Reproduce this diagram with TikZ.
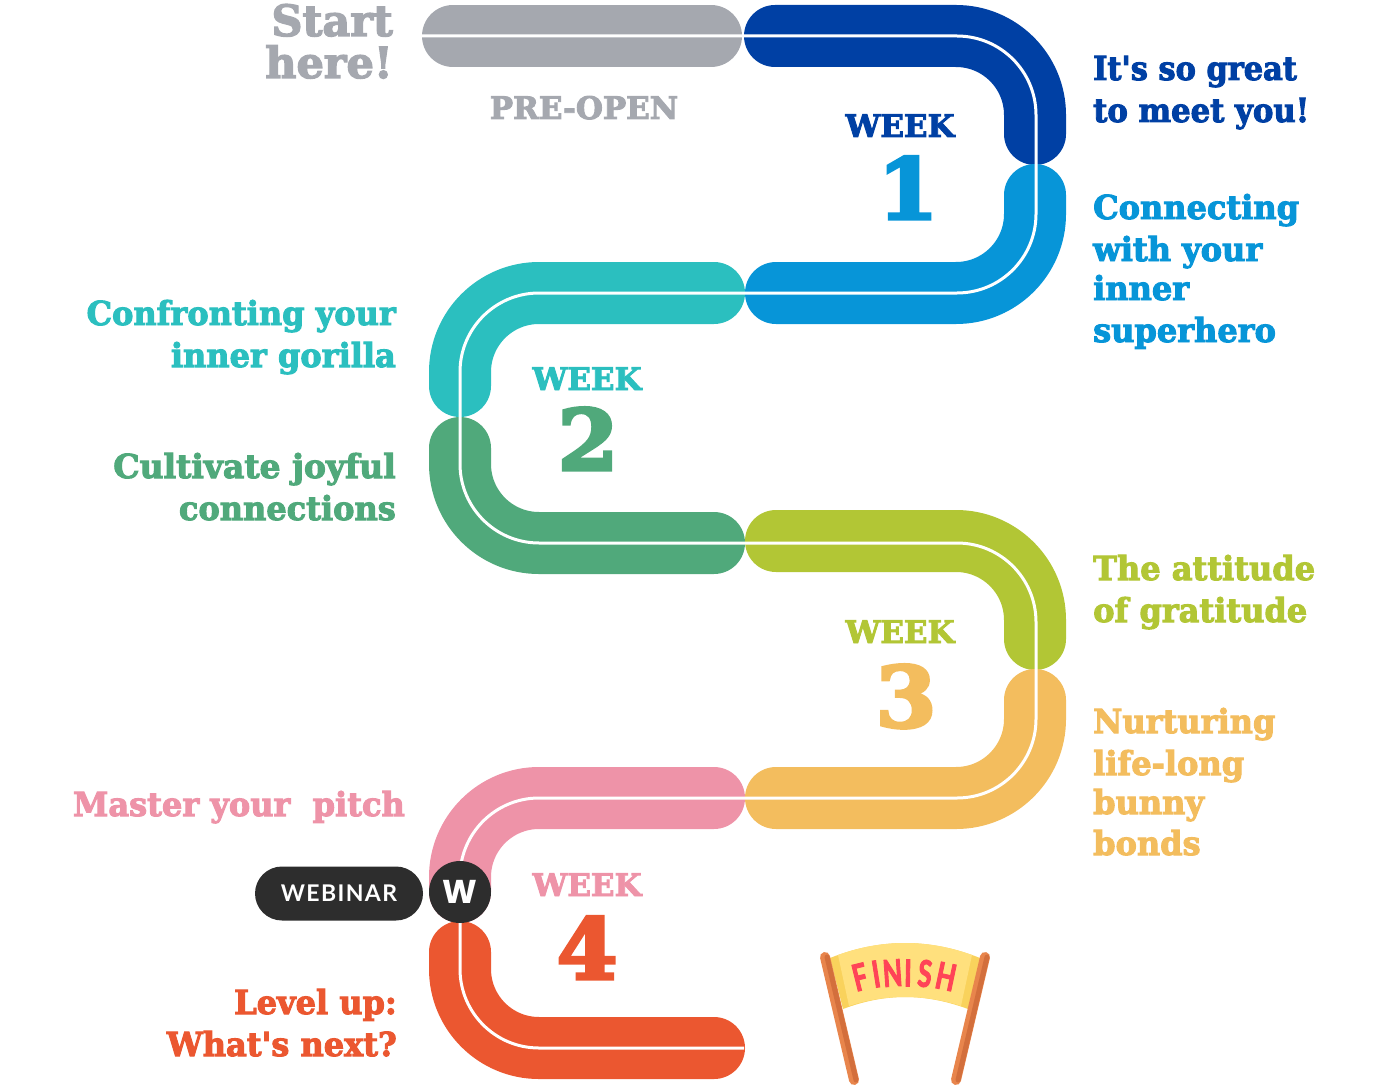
\documentclass[tikz,border=0pt]{standalone}
\usepackage{fontspec}
\setmainfont{DejaVu Serif}
\newfontfamily\slabfont[FakeStretch=0.97,FakeBold=3]{DejaVu Serif Bold}
\newfontfamily\weekfont[FakeStretch=1.0,FakeBold=3]{DejaVu Serif Bold}
\newfontfamily\numfont[FakeStretch=1.04,FakeBold=4]{DejaVu Serif Bold}
\newfontfamily\pillfont[LetterSpace=6]{Lato Bold}
\newfontfamily\markfont{Poppins Bold}
\newfontfamily\flagfont[FakeStretch=0.68,FakeBold=2.5]{Lato Bold}
\definecolor{greyOpen}{HTML}{A5A8AF}
\definecolor{navyOne}{HTML}{0040A4}
\definecolor{skyOne}{HTML}{0795D8}
\definecolor{tealTwo}{HTML}{2BBFBF}
\definecolor{greenTwo}{HTML}{50A97B}
\definecolor{limeThree}{HTML}{B2C635}
\definecolor{amberThree}{HTML}{F3BD5E}
\definecolor{pinkFour}{HTML}{EE93A8}
\definecolor{redFour}{HTML}{EB5730}
\definecolor{darkMark}{HTML}{2D2D2D}
\definecolor{poleLight}{HTML}{E8854C}
\definecolor{poleDark}{HTML}{D36F3C}
\definecolor{flagMain}{HTML}{FFE07D}
\definecolor{flagSide}{HTML}{F9D25C}
\definecolor{flagText}{HTML}{FF4457}
\tikzset{
  band/.style={line width=62pt, line cap=round, rounded corners=79pt},
  centerline/.style={draw=white, line width=3pt, rounded corners=79pt},
  topiclabel/.style={font=\slabfont\fontsize{33}{33}\selectfont, inner sep=0pt},
  rightlabel/.style={topiclabel, anchor=base west},
  leftlabel/.style={topiclabel, anchor=base east},
  weeklabel/.style={font=\weekfont\fontsize{31}{31}\selectfont, inner sep=0pt, anchor=base},
  weeknum/.style={font=\numfont\fontsize{84}{84}\selectfont, inner sep=0pt, anchor=base},
  startlabel/.style={leftlabel, text=greyOpen, font=\weekfont\fontsize{43}{43}\selectfont},
  pole/.style={line width=10pt, line cap=round},
  flagletter/.style={font=\flagfont\fontsize{37}{37}\selectfont, text=flagText, inner sep=0pt},
}
\begin{document}
\begin{tikzpicture}[x=1pt, y=-1pt]
  \useasboundingbox (0,0) rectangle (1380,1086);

  % === Route corners ===
  \coordinate (c1) at (1035,36);
  \coordinate (c2) at (1035,293);
  \coordinate (c3) at (460,293);
  \coordinate (c4) at (460,543);
  \coordinate (c5) at (1035,541);
  \coordinate (c6) at (1035,798);
  \coordinate (c7) at (460,798);
  \coordinate (c8) at (460,1048);
  \coordinate (webinarMid) at (460,892);

  % === Coloured bands ===
  \draw[band, color=greyOpen] (453,36) -- (711,36);
  \draw[band, color=navyOne] (775,36) -- (c1) -- (1035,134);
  \draw[band, color=skyOne] (1035,195) -- (c2) -- (776,293);
  \draw[band, color=tealTwo] (714,293) -- (c3) -- (460,386);
  \draw[band, color=greenTwo] (460,448) -- (c4) -- (714,543);
  \draw[band, color=limeThree] (776,541) -- (c5) -- (1035,639);
  \draw[band, color=amberThree] (1035,700) -- (c6) -- (776,798);
  \draw[band, color=pinkFour] (714,798) -- (c7) -- (webinarMid);
  \draw[band, color=redFour] (460,952) -- (c8) -- (714,1048);

  % White line along the whole route
  \draw[centerline] (422,36) -- (1036,36) -- (1036,293) -- (c3) -- (c4) -- (1036,543) -- (1036,798) -- (c7) -- (webinarMid);
  \draw[centerline] (460,921) -- (c8) -- (744,1048);

  % === Webinar marker ===
  \node[fill=darkMark, rounded corners=27pt, minimum width=168pt, minimum height=54pt, inner sep=0pt,
    text=white, font=\pillfont\fontsize{23}{23}\selectfont] (webinar) at (339,893.5) {WEBINAR};
  \node[circle, fill=darkMark, minimum size=62pt, inner sep=0pt, text=white,
    font=\markfont\fontsize{33}{33}\selectfont] (wmark) at (webinarMid) {W};

  % === Start ===
  \node[startlabel] (start1) at (393,36) {Start};
  \node[startlabel] (start2) at (393,78) {here!};
  \node[weeklabel, text=greyOpen] (preopen) at (584,119) {PRE-OPEN};

  % === Week titles ===
  \node[weeklabel, text=navyOne] (week1) at (900,137) {WEEK};
  \node[weeknum, text=skyOne] (num1) at (908,219) {1};
  \node[weeklabel, text=tealTwo] (week2) at (587,390) {WEEK};
  \node[weeknum, text=greenTwo] (num2) at (588,470) {2};
  \node[weeklabel, text=limeThree] (week3) at (900,643) {WEEK};
  \node[weeknum, text=amberThree] (num3) at (906,727) {3};
  \node[weeklabel, text=pinkFour] (week4) at (587,896) {WEEK};
  \node[weeknum, text=redFour] (num4) at (587,979) {4};

  % === Right column ===
  \node[rightlabel, text=navyOne] (r1a) at (1093,80) {\scalebox{0.95}[1]{It's so great}};
  \node[rightlabel, text=navyOne] (r1b) at (1093,122) {\scalebox{0.96}[1]{to meet you!}};
  \node[rightlabel, text=skyOne] (r2a) at (1093,219) {Connecting};
  \node[rightlabel, text=skyOne] (r2b) at (1093,261) {with your};
  \node[rightlabel, text=skyOne] (r2c) at (1093,300) {inner};
  \node[rightlabel, text=skyOne] (r2d) at (1093,342) {superhero};
  \node[rightlabel, text=limeThree] (r3a) at (1093,580) {The attitude};
  \node[rightlabel, text=limeThree] (r3b) at (1093,622) {of gratitude};
  \node[rightlabel, text=amberThree] (r4a) at (1093,733) {Nurturing};
  \node[rightlabel, text=amberThree] (r4b) at (1093,775) {life-long};
  \node[rightlabel, text=amberThree] (r4c) at (1093,814) {bunny};
  \node[rightlabel, text=amberThree] (r4d) at (1093,855) {bonds};

  % === Left column ===
  \node[leftlabel, text=tealTwo] (l1a) at (396,325) {Confronting your};
  \node[leftlabel, text=tealTwo] (l1b) at (396,367) {inner gorilla};
  \node[leftlabel, text=greenTwo] (l2a) at (396,478) {\scalebox{1.03}[1]{Cultivate joyful}};
  \node[leftlabel, text=greenTwo] (l2b) at (396,520) {connections};
  \node[leftlabel, text=pinkFour] (l3a) at (405,816) {Master your\ \ pitch};
  \node[leftlabel, text=redFour] (l4a) at (397,1014) {Level up:};
  \node[leftlabel, text=redFour] (l4b) at (397,1056) {What's next?};

  % === Finish flag ===
  \fill[flagSide] (830,958) .. controls (880,938) and (930,938) .. (980,958)
    -- (968,1009) .. controls (925,993) and (885,993) .. (843,1009) -- cycle;
  \fill[flagMain] (838,955) .. controls (882,939) and (928,939) .. (972,955)
    -- (961,1006) .. controls (925,994) and (885,994) .. (849,1006) -- cycle;
  \draw[pole, color=poleLight] (825,957) -- (854,1080);
  \draw[pole, color=poleLight] (985,957) -- (956,1080);
  \draw[line width=5pt, line cap=round, color=poleDark] (827,957) -- (856,1080);
  \draw[line width=5pt, line cap=round, color=poleDark] (987,957) -- (958,1080);
  \node[flagletter, rotate=14] (f1) at (860,977) {F};
  \node[flagletter, rotate=9] (f2) at (876,974) {I};
  \node[flagletter, rotate=4] (f3) at (892.5,973) {N};
  \node[flagletter, rotate=-1] (f4) at (908,973) {I};
  \node[flagletter, rotate=-6] (f5) at (925,973.5) {S};
  \node[flagletter, rotate=-12] (f6) at (946,976.5) {H};
\end{tikzpicture}
\end{document}
